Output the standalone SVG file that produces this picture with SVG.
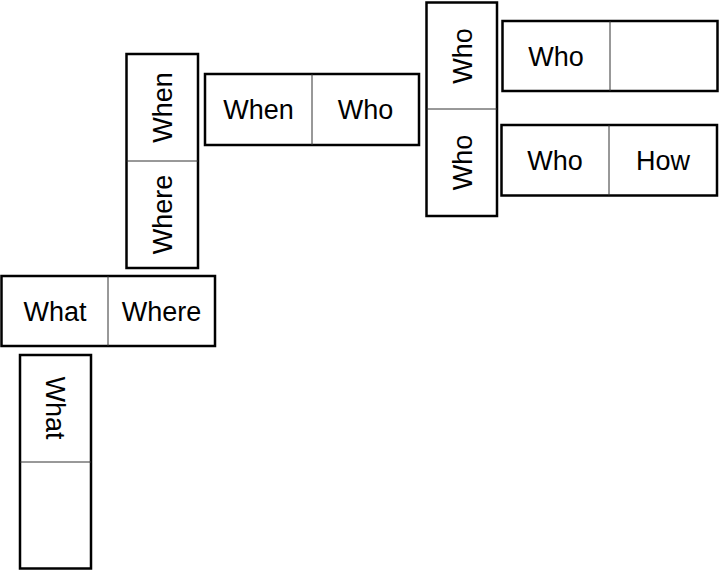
<svg xmlns="http://www.w3.org/2000/svg" width="720" height="572" viewBox="0 0 720 572">
<style>
.box{fill:#fff;stroke:#000;stroke-width:2.5}
.div{stroke:#333;stroke-width:1}
.t{font-family:"Liberation Sans",Arial,sans-serif;font-size:27px;fill:#000;text-anchor:middle}
</style>
<rect width="720" height="572" fill="#fff"/>
<g id="d1">
<rect class="box" x="1.5" y="276" width="213.5" height="70"/>
<line class="div" x1="108" y1="276" x2="108" y2="346"/>
<text class="t" x="55" y="321">What</text>
<text class="t" x="161.5" y="321">Where</text>
</g>
<g id="d2">
<rect class="box" x="20" y="355" width="71" height="213.5"/>
<line class="div" x1="20" y1="462" x2="91" y2="462"/>
<text class="t" transform="translate(55.5,408) rotate(90)" x="0" y="9.6">What</text>
</g>
<g id="d3">
<rect class="box" x="126.5" y="54" width="71.5" height="214"/>
<line class="div" x1="126.5" y1="161" x2="198" y2="161"/>
<text class="t" transform="translate(162,107.5) rotate(-90)" x="0" y="9.6">When</text>
<text class="t" transform="translate(162,214.5) rotate(-90)" x="0" y="9.6">Where</text>
</g>
<g id="d4">
<rect class="box" x="205" y="74" width="214" height="71"/>
<line class="div" x1="312" y1="74" x2="312" y2="145"/>
<text class="t" x="258.5" y="119">When</text>
<text class="t" x="365.5" y="119">Who</text>
</g>
<g id="d5">
<rect class="box" x="426.5" y="2.5" width="70.5" height="213.5"/>
<line class="div" x1="426.5" y1="109" x2="497" y2="109"/>
<text class="t" transform="translate(462,56) rotate(-90)" x="0" y="9.6">Who</text>
<text class="t" transform="translate(462,162.5) rotate(-90)" x="0" y="9.6">Who</text>
</g>
<g id="d6">
<rect class="box" x="502.5" y="21" width="215" height="70"/>
<line class="div" x1="610" y1="21" x2="610" y2="91"/>
<text class="t" x="556" y="65.5">Who</text>
</g>
<g id="d7">
<rect class="box" x="501.5" y="125" width="215.5" height="70.5"/>
<line class="div" x1="609" y1="125" x2="609" y2="195.5"/>
<text class="t" x="555" y="169.5">Who</text>
<text class="t" x="663" y="169.5">How</text>
</g>
<g id="connectors"></g>
</svg>
